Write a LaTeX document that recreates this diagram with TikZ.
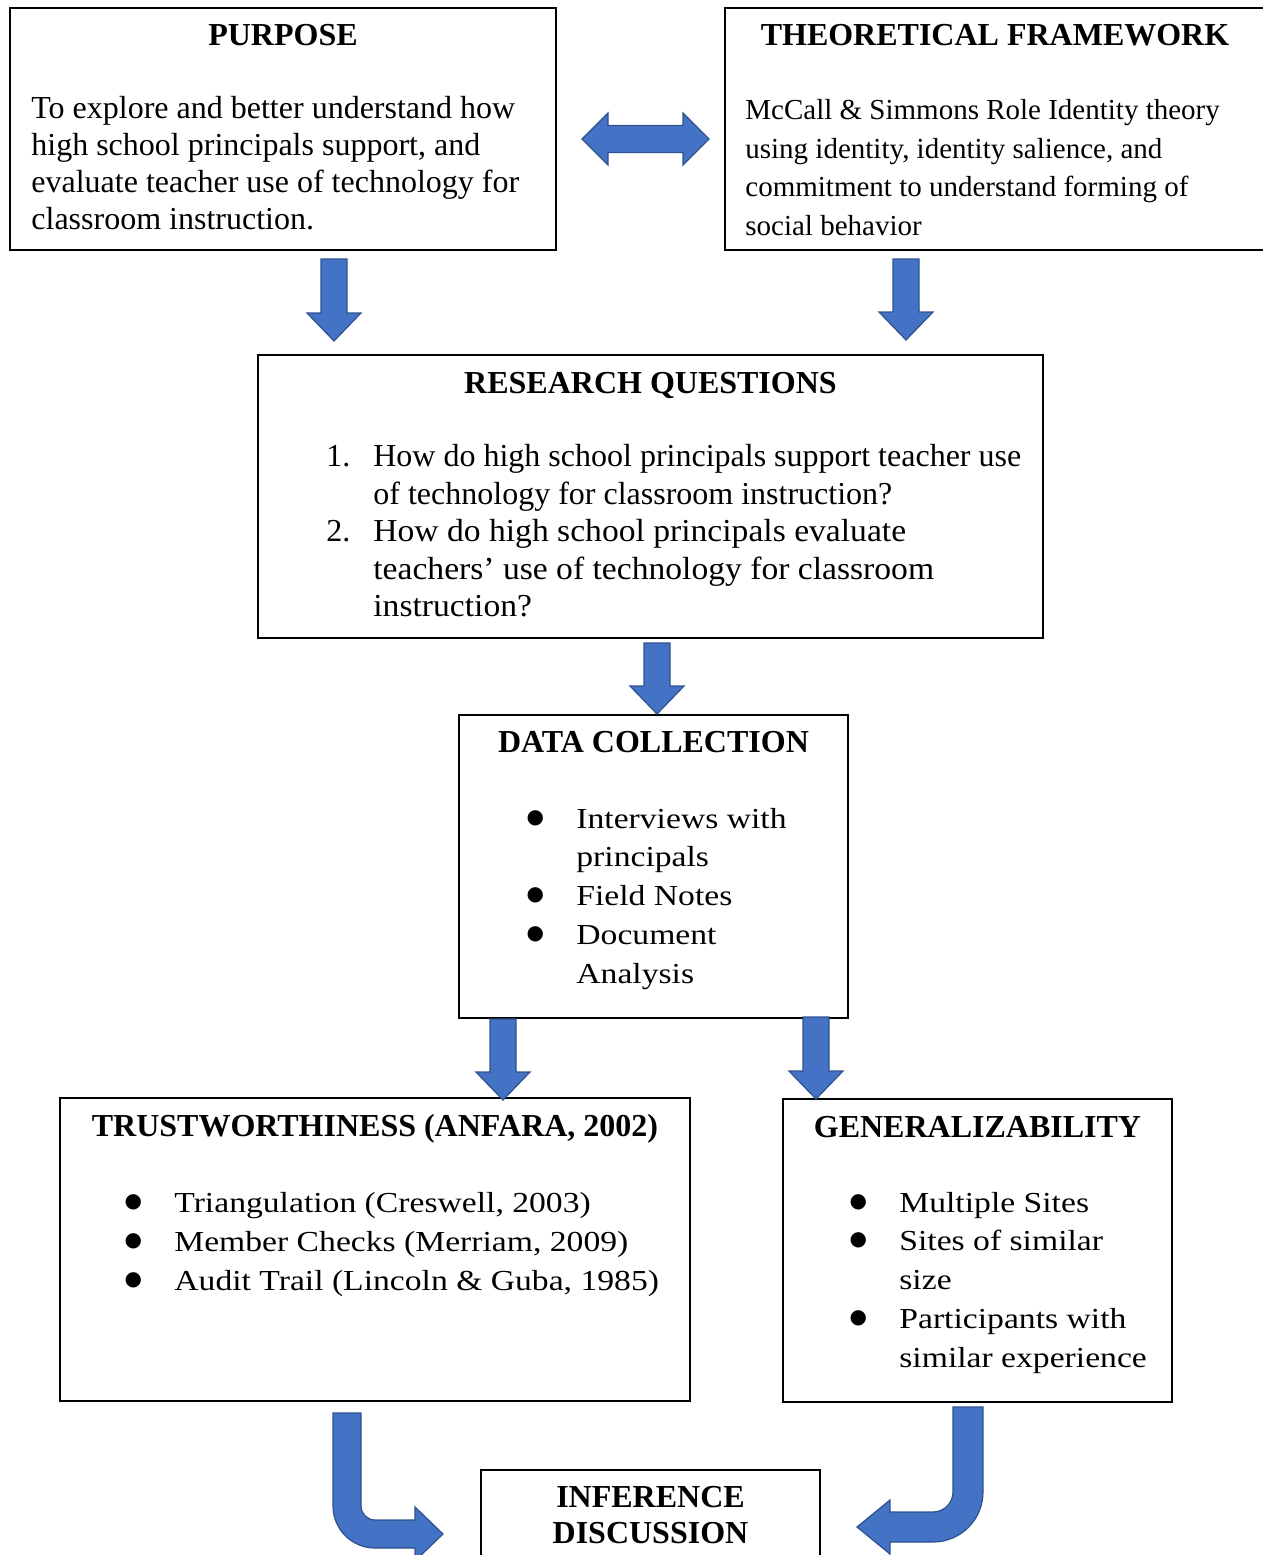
\documentclass[tikz,border=0pt]{standalone}
\usepackage{fontspec}
\setmainfont{Liberation Serif}
\newfontfamily\cambria[FakeStretch=1.16]{Liberation Serif}
\newfontfamily\rqwide[FakeStretch=1.05]{Liberation Serif}
\newfontfamily\dotfont{DejaVu Sans}
\usetikzlibrary{calc,fit}

\definecolor{blkfill}{HTML}{4472C4}
\definecolor{blkedge}{HTML}{2F528F}

% bullet and number columns of the lists
\newcommand\blt{\makebox[20.5pt][l]{\makebox[0pt]{\raisebox{2.5pt}{\fontsize{10}{10}\dotfont ●}}}}
\newcommand\rqnum[1]{\makebox[23.5pt][l]{#1}}
% block arrow pointing down, from top point to tip
\newcommand\downblk[2]{\path[blk] let \p1=(#1),\p2=(#2) in
  (\x1-6.5pt,\y1) -- (\x1-6.5pt,\y2+14pt) -- (\x1-13.5pt,\y2+14pt) -- (\x1,\y2)
  -- (\x1+13.5pt,\y2+14pt) -- (\x1+6.5pt,\y2+14pt) -- (\x1+6.5pt,\y1) -- cycle;}

\begin{document}
\begin{tikzpicture}[x=0.5pt,y=-0.5pt,
 box/.style={draw,line width=1pt,inner sep=0pt},
 head/.style={anchor=base,inner sep=0pt,font=\bfseries\fontsize{16}{18}\selectfont},
 txt/.style={anchor=base west,inner sep=0pt},
 blk/.style={fill=blkfill,draw=blkedge,line width=0.6pt}]
 \useasboundingbox (0,0) rectangle (1263,1555);
 \clip (0,0) rectangle (1263,1555);

 % boxes
 \node[box,fit={(10,8)(556,250)}] (purp) {};
 \node[box,fit={(725,8)(1265,250)}] (theo) {};
 \node[box,fit={(258,355)(1043,638)}] (rq) {};
 \node[box,fit={(459,715)(848,1018)}] (dc) {};
 \node[box,fit={(60,1098)(690,1401)}] (trust) {};
 \node[box,fit={(783,1099)(1172,1402)}] (gen) {};
 \node[box,fit={(481,1470)(820,1600)}] (inf) {};

 % texts
 \node[head] (purph) at (283,45) {PURPOSE};
 \node[txt,font=\fontsize{16}{18.5}\selectfont] (purpb) at (31,118)
  {\begin{tabular}[t]{@{}l@{}}To explore and better understand how\\
   high school principals support, and\\ evaluate teacher use of technology for\\
   classroom instruction.\end{tabular}};
 \node[head] (theoh) at (995,45) {THEORETICAL FRAMEWORK};
 \node[txt,font=\fontsize{14.5}{19.25}\selectfont] (theob) at (745,119.5)
  {\begin{tabular}[t]{@{}l@{}}McCall \& Simmons Role Identity theory\\
   using identity, identity salience, and\\ commitment to understand forming of\\
   social behavior\end{tabular}};
 \node[head] (rqh) at (650.5,393) {RESEARCH QUESTIONS};
 \node[txt,font=\fontsize{16}{18.75}\selectfont] (rqb) at (326,466.5)
  {\begin{tabular}[t]{@{}l@{}l@{}}\rqnum{1.}&How do high school principals support teacher use\\
   &of technology for classroom instruction?\\
   \rqnum{2.}&\rqwide How do high school principals evaluate\\
   &\rqwide teachers’ use of technology for classroom\\ &\rqwide instruction?\end{tabular}};
 \node[head] (dch) at (653.5,752) {DATA COLLECTION};
 \node[txt,font=\cambria\fontsize{14.5}{19.375}\selectfont] (dcb) at (535,828)
  {\begin{tabular}[t]{@{}l@{}l@{}}\blt&Interviews with\\ &principals\\
   \blt&Field Notes\\ \blt&Document\\ &Analysis\end{tabular}};
 \node[head] (trusth) at (375,1136) {TRUSTWORTHINESS (ANFARA, 2002)};
 \node[txt,font=\cambria\fontsize{14.5}{19.5}\selectfont] (trustb) at (133,1212)
  {\begin{tabular}[t]{@{}l@{}l@{}}\blt&Triangulation (Creswell, 2003)\\
   \blt&Member Checks (Merriam, 2009)\\
   \blt&Audit Trail (Lincoln \& Guba, 1985)\end{tabular}};
 \node[head] (genh) at (977.5,1137) {GENERALIZABILITY};
 \node[txt,font=\cambria\fontsize{14.5}{19.375}\selectfont] (genb) at (858,1212)
  {\begin{tabular}[t]{@{}l@{}l@{}}\blt&Multiple Sites\\ \blt&Sites of similar\\ &size\\
   \blt&Participants with\\ &similar experience\end{tabular}};
 \node[head] (infh) at (650.5,1507)
  {\begin{tabular}[t]{@{}c@{}}INFERENCE\\ DISCUSSION\end{tabular}};

 % block arrows
 \coordinate (dl) at (582,139);
 \coordinate (dr) at (709,139);
 \path[blk] let \p1=(dl),\p2=(dr) in (\p1) -- (\x1+13pt,\y1+13pt) -- (\x1+13pt,\y1+6.75pt)
  -- (\x2-13pt,\y1+6.75pt) -- (\x2-13pt,\y1+13pt) -- (\p2) -- (\x2-13pt,\y1-13pt)
  -- (\x2-13pt,\y1-6.75pt) -- (\x1+13pt,\y1-6.75pt) -- (\x1+13pt,\y1-13pt) -- cycle;
 \coordinate (a1) at (334,259); \coordinate (a1t) at (334,341);
 \coordinate (a2) at (906,259); \coordinate (a2t) at (906,340);
 \coordinate (a3) at (657,643); \coordinate (a3t) at (657,714);
 \coordinate (a4) at (503,1019); \coordinate (a4t) at (503,1100);
 \coordinate (a5) at (816,1017); \coordinate (a5t) at (816,1099);
 \downblk{a1}{a1t}
 \downblk{a2}{a2t}
 \downblk{a3}{a3t}
 \downblk{a4}{a4t}
 \downblk{a5}{a5t}
 % bent arrows into the last box
 \path[blk] (333,1413) -- (333,1506) arc(180:90:42) -- (415,1548) -- (415,1561)
  -- (443,1534) -- (415,1507) -- (415,1520) -- (375,1520) arc(90:180:14)
  -- (361,1413) -- cycle;
 \path[blk] (983,1407) -- (983,1492) arc(0:90:50) -- (890,1542) -- (890,1554)
  -- (857,1527) -- (890,1500) -- (890,1512) -- (933,1512) arc(90:0:20)
  -- (953,1407) -- cycle;
\end{tikzpicture}
\end{document}
